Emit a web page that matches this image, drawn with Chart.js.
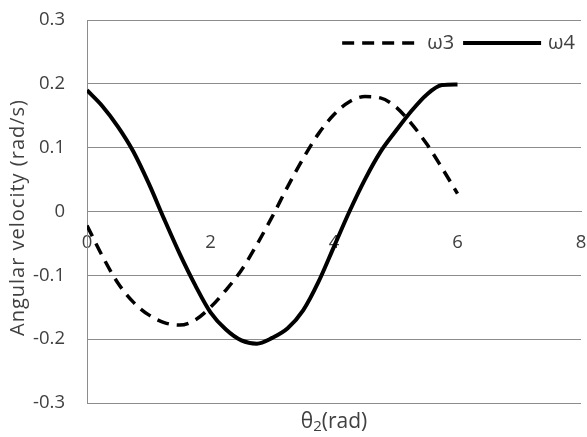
<!DOCTYPE html>
<html>
<head>
<meta charset="utf-8">
<script src="https://cdn.jsdelivr.net/npm/chart.js@4.4.1/dist/chart.umd.min.js"></script>
<style>
  html, body { margin: 0; padding: 0; background: #fff; }
  #wrap { width: 587px; height: 437px; }
</style>
</head>
<body>
<div id="wrap"><canvas id="chart"></canvas></div>
<script>
const theta = [0, 0.25, 0.5, 0.75, 1, 1.25, 1.5, 1.75, 2, 2.25, 2.5, 2.75, 3,
  3.25, 3.5, 3.75, 4, 4.25, 4.5, 4.75, 5, 5.25, 5.5, 5.75, 6];
const omega3 = [-0.022, -0.07, -0.112, -0.142, -0.162, -0.174, -0.178, -0.17, -0.15,
  -0.123, -0.092, -0.052, -0.008, 0.039, 0.083, 0.122, 0.152, 0.172, 0.18, 0.178,
  0.164, 0.138, 0.106, 0.068, 0.028];
const omega4 = [0.19, 0.165, 0.133, 0.094, 0.044, -0.012, -0.066, -0.115, -0.158,
  -0.185, -0.202, -0.207, -0.198, -0.183, -0.155, -0.11, -0.055, 0.0, 0.05, 0.093,
  0.126, 0.157, 0.183, 0.198, 0.199];
const seriesNames = ["ω3", "ω4"];
const xTicks = [0, 2, 4, 6, 8];
const yTicks = [-0.3, -0.2, -0.1, 0, 0.1, 0.2, 0.3];
const yTitle = "Angular velocity (rad/s)";

const FONT = "'Open Sans', sans-serif";
const TEXT = "#404040";
const GRID = "#8c8c8c";

const toPoints = (ys) => ys.map((y, i) => ({ x: theta[i], y }));

// legend drawn inside the plot, top right
const insideLegend = {
  id: "insideLegend",
  afterDraw(chart) {
    const ctx = chart.ctx;
    const area = chart.chartArea;
    const y = area.top + 23;
    const lineLen = 78;
    ctx.save();
    ctx.font = "20px " + FONT;
    ctx.textBaseline = "middle";
    let x = area.right - 6;
    const items = chart.data.datasets.slice().reverse();
    items.forEach((ds) => {
      const w = ctx.measureText(ds.label).width;
      x -= w;
      ctx.fillStyle = TEXT;
      ctx.fillText(ds.label, x, y);
      x -= 7 + lineLen;
      ctx.beginPath();
      ctx.setLineDash(ds.borderDash || []);
      ctx.lineWidth = ds.borderWidth;
      ctx.strokeStyle = ds.borderColor;
      ctx.moveTo(x, y);
      ctx.lineTo(x + lineLen, y);
      ctx.stroke();
      x -= 9;
    });
    ctx.restore();
  }
};

// axis titles: x with subscript, y rotated
const axisTitles = {
  id: "axisTitles",
  afterDraw(chart) {
    const ctx = chart.ctx;
    const area = chart.chartArea;
    const cx = (area.left + area.right) / 2;
    const y = area.bottom + 19;
    const big = "21px " + FONT, small = "15px " + FONT;
    ctx.save();
    ctx.fillStyle = TEXT;
    ctx.textBaseline = "middle";
    const a = "θ", b = "(rad)";
    ctx.font = small;
    const sw = ctx.measureText("2").width;
    ctx.font = big;
    const aw = ctx.measureText(a).width;
    const total = aw + sw + ctx.measureText(b).width;
    let x = cx - total / 2;
    ctx.fillText(a, x, y);
    x += aw;
    ctx.font = small;
    ctx.fillText("2", x, y + 5);
    x += sw;
    ctx.font = big;
    ctx.fillText(b, x, y);

    ctx.translate(18, (area.top + area.bottom) / 2 + 6);
    ctx.rotate(-Math.PI / 2);
    ctx.textAlign = "center";
    ctx.font = "20px " + FONT;
    ctx.letterSpacing = "1px";
    ctx.fillText(yTitle, 0, 0);
    ctx.restore();
  }
};

const noPadding = (scale) => {
  scale.paddingLeft = 0;
  scale.paddingRight = 0;
  scale.paddingTop = 0;
  scale.paddingBottom = 0;
};

new Chart(document.getElementById("chart"), {
  type: "line",
  data: {
    datasets: [
      {
        label: seriesNames[0],
        data: toPoints(omega3),
        borderColor: "#000",
        borderWidth: 3.5,
        borderDash: [12, 8],
        pointRadius: 0,
        cubicInterpolationMode: "monotone",
        fill: false
      },
      {
        label: seriesNames[1],
        data: toPoints(omega4),
        borderColor: "#000",
        borderWidth: 4,
        pointRadius: 0,
        cubicInterpolationMode: "monotone",
        fill: false
      }
    ]
  },
  options: {
    responsive: true,
    maintainAspectRatio: false,
    animation: false,
    layout: { padding: { top: 20, right: 6, bottom: 34, left: 0 } },
    plugins: {
      legend: { display: false },
      tooltip: { enabled: false }
    },
    scales: {
      x: {
        type: "linear",
        position: { y: 0 },
        min: 0,
        max: 8,
        afterBuildTicks: (scale) => { scale.ticks = xTicks.map((v) => ({ value: v })); },
        afterFit: noPadding,
        ticks: {
          padding: 20,
          color: TEXT,
          font: { family: FONT, size: 18.5 },
          maxRotation: 0,
          callback: (v) => String(v)
        },
        grid: { display: false, drawTicks: false },
        border: { color: GRID, width: 1 }
      },
      y: {
        type: "linear",
        min: -0.3,
        max: 0.3,
        afterBuildTicks: (scale) => { scale.ticks = yTicks.map((v) => ({ value: v })); },
        afterFit: (scale) => { noPadding(scale); scale.width = 87; },
        ticks: {
          padding: 22,
          color: TEXT,
          font: { family: FONT, size: 18.5 },
          callback: (v) => String(parseFloat(v.toFixed(1)))
        },
        grid: { color: GRID, lineWidth: 1, drawTicks: false },
        border: { color: GRID, width: 1 }
      }
    }
  },
  plugins: [insideLegend, axisTitles]
});
</script>
</body>
</html>
